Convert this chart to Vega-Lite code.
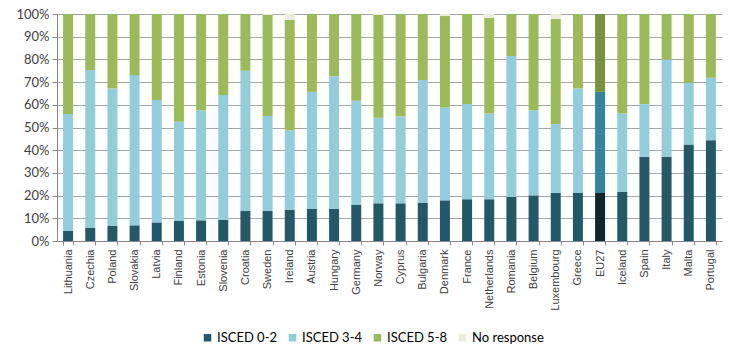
{
  "$schema": "https://vega.github.io/schema/vega-lite/v6.json",
  "width": 665,
  "height": 227,
  "autosize": {"type": "none"},
  "padding": {"left": 57, "top": 14, "right": 15, "bottom": 117},
  "background": "white",
  "config": {
    "view": {"stroke": null},
    "font": "Lato"
  },
  "data": {
    "values": [
      {"country": "Lithuania", "level": "ISCED 0-2", "value": 4.4},
      {"country": "Lithuania", "level": "ISCED 3-4", "value": 51.5},
      {"country": "Lithuania", "level": "ISCED 5-8", "value": 44.1},
      {"country": "Czechia", "level": "ISCED 0-2", "value": 5.7},
      {"country": "Czechia", "level": "ISCED 3-4", "value": 69.6},
      {"country": "Czechia", "level": "ISCED 5-8", "value": 24.7},
      {"country": "Poland", "level": "ISCED 0-2", "value": 6.6},
      {"country": "Poland", "level": "ISCED 3-4", "value": 60.6},
      {"country": "Poland", "level": "ISCED 5-8", "value": 32.8},
      {"country": "Slovakia", "level": "ISCED 0-2", "value": 6.9},
      {"country": "Slovakia", "level": "ISCED 3-4", "value": 66.2},
      {"country": "Slovakia", "level": "ISCED 5-8", "value": 26.9},
      {"country": "Latvia", "level": "ISCED 0-2", "value": 8.2},
      {"country": "Latvia", "level": "ISCED 3-4", "value": 53.9},
      {"country": "Latvia", "level": "ISCED 5-8", "value": 37.9},
      {"country": "Finland", "level": "ISCED 0-2", "value": 8.8},
      {"country": "Finland", "level": "ISCED 3-4", "value": 43.7},
      {"country": "Finland", "level": "ISCED 5-8", "value": 47.5},
      {"country": "Estonia", "level": "ISCED 0-2", "value": 9.1},
      {"country": "Estonia", "level": "ISCED 3-4", "value": 48.5},
      {"country": "Estonia", "level": "ISCED 5-8", "value": 42.4},
      {"country": "Slovenia", "level": "ISCED 0-2", "value": 9.4},
      {"country": "Slovenia", "level": "ISCED 3-4", "value": 54.9},
      {"country": "Slovenia", "level": "ISCED 5-8", "value": 35.7},
      {"country": "Croatia", "level": "ISCED 0-2", "value": 13.2},
      {"country": "Croatia", "level": "ISCED 3-4", "value": 61.8},
      {"country": "Croatia", "level": "ISCED 5-8", "value": 25.0},
      {"country": "Sweden", "level": "ISCED 0-2", "value": 13.2},
      {"country": "Sweden", "level": "ISCED 3-4", "value": 41.9},
      {"country": "Sweden", "level": "ISCED 5-8", "value": 44.5},
      {"country": "Sweden", "level": "No response", "value": 0.4},
      {"country": "Ireland", "level": "ISCED 0-2", "value": 13.8},
      {"country": "Ireland", "level": "ISCED 3-4", "value": 35.0},
      {"country": "Ireland", "level": "ISCED 5-8", "value": 48.6},
      {"country": "Ireland", "level": "No response", "value": 2.6},
      {"country": "Austria", "level": "ISCED 0-2", "value": 14.1},
      {"country": "Austria", "level": "ISCED 3-4", "value": 51.6},
      {"country": "Austria", "level": "ISCED 5-8", "value": 34.3},
      {"country": "Hungary", "level": "ISCED 0-2", "value": 14.1},
      {"country": "Hungary", "level": "ISCED 3-4", "value": 58.5},
      {"country": "Hungary", "level": "ISCED 5-8", "value": 27.4},
      {"country": "Germany", "level": "ISCED 0-2", "value": 15.9},
      {"country": "Germany", "level": "ISCED 3-4", "value": 45.9},
      {"country": "Germany", "level": "ISCED 5-8", "value": 38.2},
      {"country": "Norway", "level": "ISCED 0-2", "value": 16.6},
      {"country": "Norway", "level": "ISCED 3-4", "value": 37.7},
      {"country": "Norway", "level": "ISCED 5-8", "value": 45.3},
      {"country": "Norway", "level": "No response", "value": 0.4},
      {"country": "Cyprus", "level": "ISCED 0-2", "value": 16.6},
      {"country": "Cyprus", "level": "ISCED 3-4", "value": 38.4},
      {"country": "Cyprus", "level": "ISCED 5-8", "value": 45.0},
      {"country": "Bulgaria", "level": "ISCED 0-2", "value": 16.9},
      {"country": "Bulgaria", "level": "ISCED 3-4", "value": 54.0},
      {"country": "Bulgaria", "level": "ISCED 5-8", "value": 29.1},
      {"country": "Denmark", "level": "ISCED 0-2", "value": 17.9},
      {"country": "Denmark", "level": "ISCED 3-4", "value": 40.9},
      {"country": "Denmark", "level": "ISCED 5-8", "value": 40.3},
      {"country": "Denmark", "level": "No response", "value": 0.9},
      {"country": "France", "level": "ISCED 0-2", "value": 18.4},
      {"country": "France", "level": "ISCED 3-4", "value": 41.9},
      {"country": "France", "level": "ISCED 5-8", "value": 39.7},
      {"country": "Netherlands", "level": "ISCED 0-2", "value": 18.4},
      {"country": "Netherlands", "level": "ISCED 3-4", "value": 37.8},
      {"country": "Netherlands", "level": "ISCED 5-8", "value": 42.2},
      {"country": "Netherlands", "level": "No response", "value": 1.6},
      {"country": "Romania", "level": "ISCED 0-2", "value": 19.4},
      {"country": "Romania", "level": "ISCED 3-4", "value": 62.1},
      {"country": "Romania", "level": "ISCED 5-8", "value": 18.5},
      {"country": "Belgium", "level": "ISCED 0-2", "value": 20.1},
      {"country": "Belgium", "level": "ISCED 3-4", "value": 37.5},
      {"country": "Belgium", "level": "ISCED 5-8", "value": 42.4},
      {"country": "Luxembourg", "level": "ISCED 0-2", "value": 21.2},
      {"country": "Luxembourg", "level": "ISCED 3-4", "value": 30.3},
      {"country": "Luxembourg", "level": "ISCED 5-8", "value": 46.3},
      {"country": "Luxembourg", "level": "No response", "value": 2.2},
      {"country": "Greece", "level": "ISCED 0-2", "value": 21.2},
      {"country": "Greece", "level": "ISCED 3-4", "value": 46.0},
      {"country": "Greece", "level": "ISCED 5-8", "value": 32.8},
      {"country": "EU27", "level": "ISCED 0-2", "value": 21.2},
      {"country": "EU27", "level": "ISCED 3-4", "value": 44.5},
      {"country": "EU27", "level": "ISCED 5-8", "value": 34.3},
      {"country": "Iceland", "level": "ISCED 0-2", "value": 21.6},
      {"country": "Iceland", "level": "ISCED 3-4", "value": 34.6},
      {"country": "Iceland", "level": "ISCED 5-8", "value": 43.8},
      {"country": "Spain", "level": "ISCED 0-2", "value": 37.1},
      {"country": "Spain", "level": "ISCED 3-4", "value": 23.2},
      {"country": "Spain", "level": "ISCED 5-8", "value": 39.7},
      {"country": "Italy", "level": "ISCED 0-2", "value": 37.1},
      {"country": "Italy", "level": "ISCED 3-4", "value": 42.9},
      {"country": "Italy", "level": "ISCED 5-8", "value": 20.0},
      {"country": "Malta", "level": "ISCED 0-2", "value": 42.5},
      {"country": "Malta", "level": "ISCED 3-4", "value": 27.2},
      {"country": "Malta", "level": "ISCED 5-8", "value": 30.3},
      {"country": "Portugal", "level": "ISCED 0-2", "value": 44.4},
      {"country": "Portugal", "level": "ISCED 3-4", "value": 27.5},
      {"country": "Portugal", "level": "ISCED 5-8", "value": 28.1}
    ]
  },
  "mark": {"type": "bar"},
  "encoding": {
    "x": {
      "field": "country",
      "type": "nominal",
      "sort": null,
      "scale": {"paddingInner": 0.55, "paddingOuter": 0.275},
      "axis": {
        "title": null,
        "labelAngle": -90,
        "labelAlign": "right",
        "labelBaseline": "middle",
        "labelFont": "Liberation Sans",
        "labelFontSize": 11,
        "labelColor": "#404040",
        "labelPadding": 4,
        "tickBand": "extent",
        "tickColor": "#868686",
        "tickSize": 4,
        "domainColor": "#868686",
        "grid": false
      }
    },
    "y": {
      "field": "value",
      "type": "quantitative",
      "stack": "zero",
      "scale": {"domain": [0, 100], "nice": false},
      "axis": {
        "title": null,
        "values": [0, 10, 20, 30, 40, 50, 60, 70, 80, 90, 100],
        "labelExpr": "datum.value + '%'",
        "labelFont": "Lato",
        "labelFontSize": 13,
        "labelColor": "#404040",
        "labelPadding": 3,
        "tickColor": "#868686",
        "tickSize": 5,
        "domain": true,
        "domainColor": "#868686",
        "grid": true,
        "gridColor": "#a6a6a6",
        "gridWidth": 1
      }
    },
    "color": {
      "field": "level",
      "type": "nominal",
      "condition": [
        {"test": "datum.country === 'EU27' && datum.level === 'ISCED 0-2'", "value": "#10262e"},
        {"test": "datum.country === 'EU27' && datum.level === 'ISCED 3-4'", "value": "#31859c"},
        {"test": "datum.country === 'EU27' && datum.level === 'ISCED 5-8'", "value": "#77933c"}
      ],
      "scale": {
        "domain": ["ISCED 0-2", "ISCED 3-4", "ISCED 5-8", "No response"],
        "range": ["#215968", "#92cddc", "#9bbb59", "#eeece1"]
      },
      "legend": {
        "title": null,
        "orient": "none",
        "direction": "horizontal",
        "columns": 4,
        "legendX": 144,
        "legendY": 317,
        "symbolType": "square",
        "symbolSize": 56,
        "symbolStrokeWidth": 0,
        "labelFont": "Lato",
        "labelFontSize": 13,
        "labelColor": "#000000",
        "labelOffset": 3,
        "columnPadding": 8
      }
    },
    "order": {"field": "level", "sort": "ascending"}
  }
}
